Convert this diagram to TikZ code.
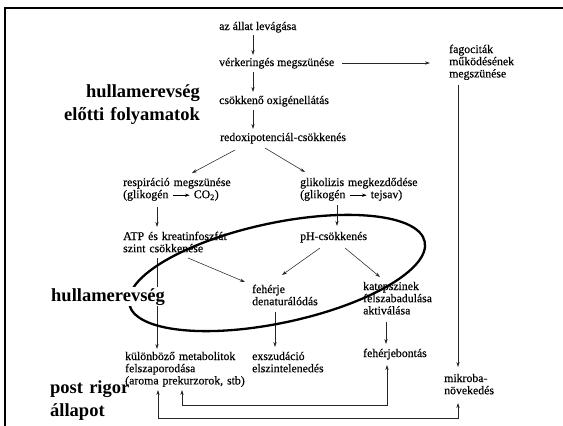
\documentclass[tikz,border=0pt]{standalone}
\usepackage{fontspec}
\setmainfont{Liberation Serif}
\newfontfamily\bodyfont[FakeBold=0.35]{Liberation Serif}
\usetikzlibrary{arrows.meta,calc}
\newcommand\inarr{\tikz[baseline=-0.55ex]\draw[line width=0.5pt,-{Stealth[length=4.5pt,width=3.2pt]}] (0pt,0pt)--(17pt,0pt);}
\begin{document}
\begin{tikzpicture}[x=1pt,y=-1pt,
  txt/.style={font=\bodyfont\fontsize{11.8}{12.2}\selectfont, inner sep=0pt, anchor=base west, align=left},
  mtxt/.style={txt, text width=#1},
  big/.style={font=\fontsize{18.5}{23.5}\selectfont\bfseries, inner sep=0pt},
  arr/.style={line width=0.55pt, draw=black!85, -{Stealth[length=5pt,width=3.2pt]}},
  darr/.style={line width=0.55pt, draw=black!85, {Stealth[length=5pt,width=3.2pt]}-{Stealth[length=5pt,width=3.2pt]}},
  ]
\useasboundingbox (0,0) rectangle (563,426);
\fill[white] (0,0) rectangle (563,426);
% frame
\draw[line width=2.6pt] (5,426) -- (5,8) -- (563,8);

% text nodes
\node[txt] (lev) at (219,30) {az állat levágása};
\node[txt] (verk) at (219,66) {vérkeringés megszünése};
\node[txt] (oxi) at (219,104) {csökkenő oxigénellátás};
\node[txt] (redox) at (220,141) {redoxipotenciál-csökkenés};
\node[mtxt=90pt] (fag) at (449,53) {fagociták\\működésének\\megszünése};
\node[mtxt=150pt] (resp) at (123,186) {respiráció megszünése\\(glikogén \inarr{} CO\textsubscript{2})};
\node[mtxt=150pt] (glik) at (300,186) {glikolizis megkezdődése\\(glikogén \inarr{} tejsav)};
\node[mtxt=150pt] (atp) at (123,240) {ATP és kreatinfoszfát\\szint csökkenése};
\node[txt] (ph) at (300,240) {pH-csökkenés};
\node[mtxt=90pt] (feh) at (252,293) {fehérje\\denaturálódás};
\node[mtxt=90pt] (kat) at (363,290) {katepszinek\\felszabadulása\\aktiválása};
\node[mtxt=150pt] (kul) at (125,360) {különböző metabolitok\\felszaporodása\\(aroma prekurzorok, stb)};
\node[mtxt=90pt] (exsz) at (252,360) {exszudáció\\elszintelenedés};
\node[txt] (fbont) at (363,357) {fehérjebontás};
\node[mtxt=70pt] (mikr) at (444,382) {mikroba-\\növekedés};

% connectors
\draw[arr] ($(lev.base west)+(34,5)$) -- ($(verk.base west)+(34,-11)$);
\draw[arr] ($(verk.base west)+(34,6)$) -- ($(oxi.base west)+(34,-12)$);
\draw[arr] ($(oxi.base west)+(34,6)$) -- ($(redox.base west)+(33,-12)$);
\draw[arr] ($(verk.base west)+(123,-3)$) -- ($(fag.base west)+(-19,10)$);
\draw[arr] ($(fag.base west)+(9,32)$) -- ($(mikr.base west)+(14,-15)$);
\draw[arr] ($(redox.base west)+(15,9)$) -- ($(resp.base west)+(69,-13)$);
\draw[arr] ($(redox.base west)+(45,7)$) -- ($(glik.base west)+(5,-14)$);
\draw[arr] ($(resp.base west)+(34,21)$) -- ($(atp.base west)+(34,-13)$);
\draw[arr] ($(glik.base west)+(37,19)$) -- ($(ph.base west)+(37,-14)$);
\draw[arr] ($(atp.base west)+(34,18)$) -- ($(kul.base west)+(32,-11)$);
\draw[arr] ($(atp.base west)+(65,18)$) -- ($(feh.base west)+(-7,-11)$);
\draw[arr] ($(ph.base west)+(20,8)$) -- ($(feh.base west)+(30,-18)$);
\draw[arr] ($(ph.base west)+(45,8)$) -- ($(kat.base west)+(17,-13)$);
\draw[arr] ($(feh.base west)+(23,19)$) -- ($(exsz.base west)+(23,-13)$);
\draw[arr] ($(kat.base west)+(23,32)$) -- ($(fbont.base west)+(23,-13)$);
\draw[darr] ($(fbont.base west)+(24,8)$) |- ($(kul.base west)+(57,45)$) -- ($(kul.base west)+(57,30)$);
\draw[darr] ($(mikr.base west)+(14,21)$) |- ($(kul.base west)+(33,58)$) -- ($(kul.base west)+(33,30)$);

% ellipse
\draw[line width=2.3pt, rotate around={12:(277,273)}] (277,273) ellipse [x radius=151pt, y radius=50pt];

% big labels
\node[big, anchor=base east, align=right, text width=170pt] (lab1) at (200,97) {hullamerevség\\előtti folyamatok};
\node[big, anchor=base west, fill=white, inner sep=1pt] (lab2) at (50,301) {hullamerevség};
\node[big, anchor=base west, align=left, text width=100pt] (lab3) at (50,393) {post rigor\\állapot};
\end{tikzpicture}
\end{document}
